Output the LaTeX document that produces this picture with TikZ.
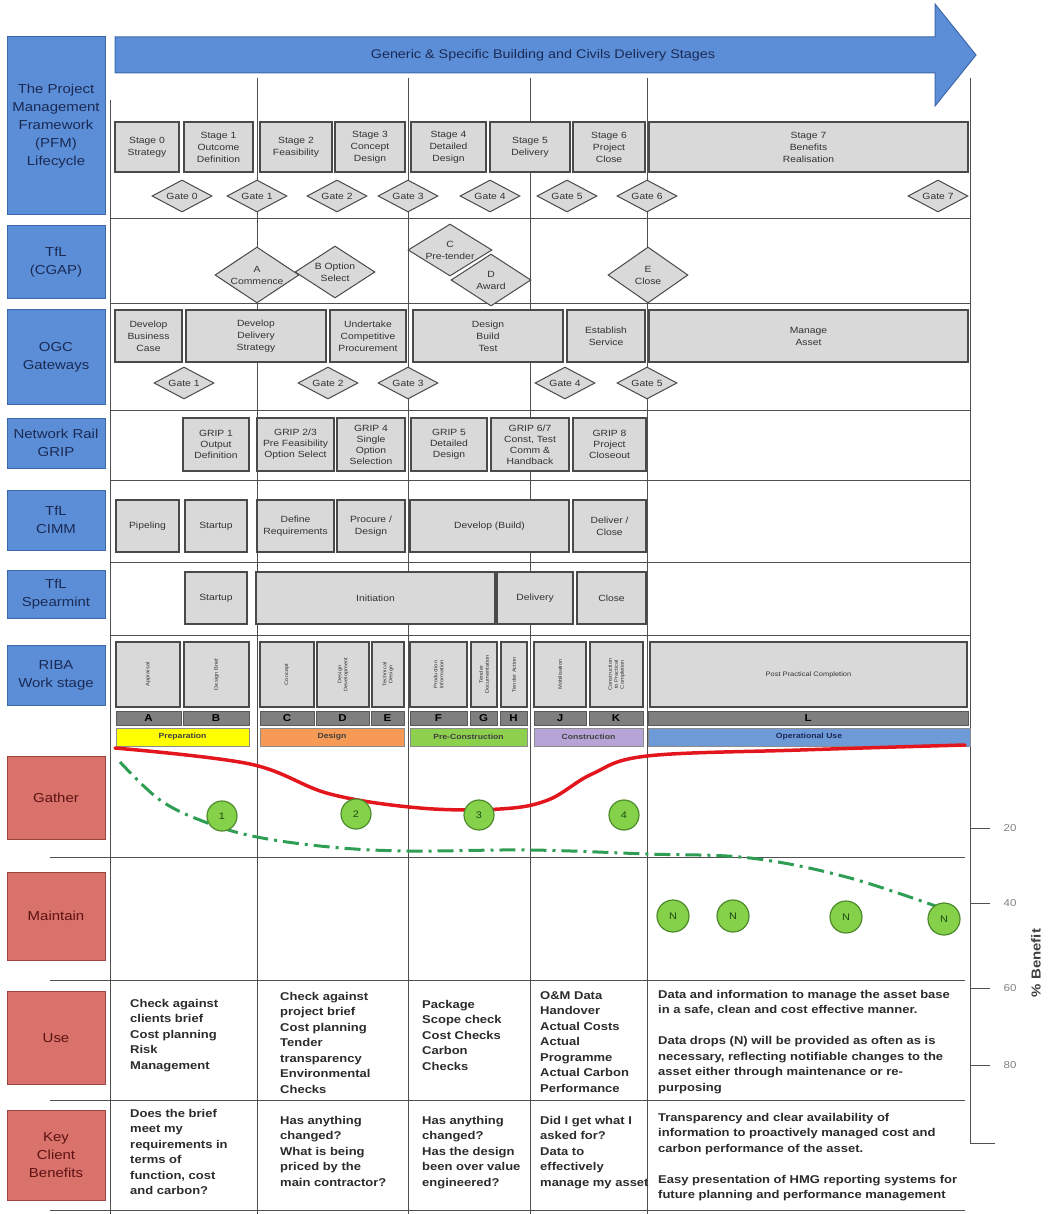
\documentclass[tikz,border=0pt]{standalone}
\usepackage{fontspec}
\setmainfont{Liberation Sans}[FakeStretch=1.15]
\usetikzlibrary{shapes.geometric}

\definecolor{blueback}{HTML}{5B8ED7}
\definecolor{bluedark}{HTML}{3C68AA}
\definecolor{bluetext}{HTML}{1B2A55}
\definecolor{redback}{HTML}{D9726B}
\definecolor{reddark}{HTML}{9C4540}
\definecolor{redtext}{HTML}{5C1212}
\definecolor{boxgrey}{HTML}{D9D9D9}
\definecolor{boxline}{HTML}{4A4A4A}
\definecolor{boxtext}{HTML}{333333}
\definecolor{gridline}{HTML}{505050}
\definecolor{lettergrey}{HTML}{7F7F7F}
\definecolor{prepyellow}{HTML}{FFFF00}
\definecolor{designorange}{HTML}{F79A55}
\definecolor{precongreen}{HTML}{8DD04E}
\definecolor{constrlilac}{HTML}{B6A4D6}
\definecolor{opblue}{HTML}{6F9AD8}
\definecolor{curvered}{HTML}{E3161E}
\definecolor{dashgreen}{HTML}{2F9E55}
\definecolor{circgreen}{HTML}{86D14A}
\definecolor{circline}{HTML}{4C8A2C}
\definecolor{circtext}{HTML}{1F4A12}
\definecolor{axistext}{HTML}{808080}
\definecolor{bodytext}{HTML}{2B2B2B}

\newcommand{\labfont}{\fontsize{13}{18}\selectfont}
\newcommand{\boxfont}{\fontsize{9}{12}\selectfont}
\newcommand{\ribafont}{\fontsize{5}{6}\selectfont}
\newcommand{\bodyfont}{\bfseries\fontsize{11.3}{15.5}\selectfont}
\newcommand{\arrowfont}{\fontsize{12.5}{14}\selectfont}

\begin{document}
\begin{tikzpicture}[x=1pt,y=-1pt,
    gbox/.style={draw=boxline, fill=boxgrey, line width=1.1pt, inner sep=0pt, align=center, font=\boxfont, text=boxtext},
    gate/.style={diamond, aspect=2, draw=boxline, fill=boxgrey, line width=1pt, inner sep=0pt, minimum width=60pt, minimum height=32pt, font=\boxfont, text=boxtext},
    cgap/.style={gate, aspect=1.6, align=center},
    bluelab/.style={draw=bluedark, fill=blueback, line width=1pt, minimum width=98pt, inner sep=0pt, align=center, font=\labfont, text=bluetext},
    redlab/.style={bluelab, draw=reddark, fill=redback, text=redtext},
    colline/.style={draw=gridline, line width=1pt},
    letterbar/.style={draw=lettergrey!70!black, fill=lettergrey, line width=0.6pt, inner sep=0pt, minimum height=14pt, font=\bfseries\fontsize{10}{10}\selectfont},
    phasebar/.style={draw=black!45, line width=0.6pt, inner sep=0pt, minimum height=18pt, font=\bfseries\fontsize{7.5}{8}\selectfont, text=black!75},
    bodytxt/.style={anchor=north west, align=left, inner sep=0pt, font=\bodyfont, text=bodytext},
    dot/.style={circle, draw=circline, fill=circgreen, line width=1.2pt, minimum size=30pt, inner sep=0pt, font=\fontsize{9.5}{9.5}\selectfont, text=circtext}]
    \useasboundingbox (0,0) rectangle (1050,1214);

    % grid of the stages
    \draw[colline] (110,100) -- (110,1214);
    \draw[colline] (970,78) -- (970,1143) -- (995,1143);
    \foreach \x in {257,408,530,647}
        \draw[colline] (\x,78) -- (\x,1214);
    \foreach \y in {219,303,410,480,562,635}
        \draw[colline] (110,\y) -- (970,\y);
    \foreach \y in {857,980,1100,1210}
        \draw[colline] (50,\y) -- (965,\y);

    % benefit axis
    \foreach \y/\v in {828/20,903/40,988/60,1065/80} {
        \draw[colline] (970,\y) -- (990,\y);
        \node[text=axistext, font=\fontsize{10}{10}\selectfont] (tick\v) at (1010,\y) {\v};
    }
    \node[rotate=90, font=\bfseries\fontsize{13}{13}\selectfont, text=black!75] (benefit) at (1036,963) {\% Benefit};

    % delivery stages arrow
    \draw[draw=bluedark, fill=blueback, line width=1pt] (115,37) -- (935,37) -- (935,4) -- (976,55) -- (935,106) -- (935,73) -- (115,73) -- cycle;
    \node[font=\arrowfont, text=bluetext] (stages) at (543,55) {Generic \& Specific Building and Civils Delivery Stages};

    % row labels
    \node[bluelab, minimum height=178pt] (lpfm) at (56,126) {The Project\\Management\\Framework\\(PFM)\\Lifecycle};
    \node[bluelab, minimum height=73pt] (lcgap) at (56,262) {TfL\\(CGAP)};
    \node[bluelab, minimum height=95pt] (logc) at (56,357) {OGC\\Gateways};
    \node[bluelab, minimum height=50pt] (lgrip) at (56,443) {Network Rail\\GRIP};
    \node[bluelab, minimum height=60pt] (lcimm) at (56,520) {TfL\\CIMM};
    \node[bluelab, minimum height=48pt] (lspear) at (56,594) {TfL\\Spearmint};
    \node[bluelab, minimum height=60pt] (lriba) at (56,675) {RIBA\\Work stage};
    \node[redlab, minimum height=83pt] (lgather) at (56,798) {Gather};
    \node[redlab, minimum height=88pt] (lmaintain) at (56,916) {Maintain};
    \node[redlab, minimum height=93pt] (luse) at (56,1038) {Use};
    \node[redlab, minimum height=90pt] (lkey) at (56,1155) {Key\\Client\\Benefits};

    % PFM stages
    \foreach \nm/\xa/\xb/\t in {s0/115/179/{Stage 0\\Strategy}, s1/184/253/{Stage 1\\Outcome\\Definition},
        s2/260/332/{Stage 2\\Feasibility}, s3/335/405/{Stage 3\\Concept\\Design},
        s4/411/486/{Stage 4\\Detailed\\Design}, s5/490/570/{Stage 5\\Delivery},
        s6/573/645/{Stage 6\\Project\\Close}, s7/649/968/{Stage 7\\Benefits\\Realisation}}
        \node[gbox, minimum width={(\xb-\xa)*1pt}, minimum height=50pt] (\nm) at ({(\xa+\xb)/2},147) {\t};
    \foreach \nm/\x/\t in {g0/182/Gate 0, g1/257/Gate 1, g2/337/Gate 2, g3/408/Gate 3,
        g4/490/Gate 4, g5/567/Gate 5, g6/647/Gate 6, g7/938/Gate 7}
        \node[gate] (\nm) at (\x,196) {\t};

    % CGAP gates
    \node[cgap, minimum width=84pt, minimum height=56pt] (ga) at (257,275) {A\\Commence};
    \node[cgap, minimum width=80pt, minimum height=52pt] (gb) at (335,272) {B Option\\Select};
    \node[cgap, minimum width=84pt, minimum height=52pt] (gc) at (450,250) {C\\Pre-tender};
    \node[cgap, minimum width=80pt, minimum height=52pt] (gd) at (491,280) {D\\Award};
    \node[cgap, minimum width=80pt, minimum height=56pt] (ge) at (648,275) {E\\Close};

    % OGC gateways
    \foreach \nm/\xa/\xb/\t in {o1/115/182/{Develop\\Business\\Case}, o2/186/326/{Develop\\Delivery\\Strategy},
        o3/330/406/{Undertake\\Competitive\\Procurement}, o4/413/563/{Design\\Build\\Test},
        o5/567/645/{Establish\\Service}, o6/649/968/{Manage\\Asset}}
        \node[gbox, minimum width={(\xb-\xa)*1pt}, minimum height=52pt] (\nm) at ({(\xa+\xb)/2},336) {\t};
    \foreach \nm/\x/\t in {og1/184/Gate 1, og2/328/Gate 2, og3/408/Gate 3, og4/565/Gate 4, og5/647/Gate 5}
        \node[gate] (\nm) at (\x,383) {\t};

    % GRIP
    \foreach \nm/\xa/\xb/\t in {r1/183/249/{GRIP 1\\Output\\Definition}, r2/257/334/{GRIP 2/3\\Pre Feasibility\\Option Select},
        r3/337/405/{GRIP 4\\Single\\Option\\Selection}, r4/411/487/{GRIP 5\\Detailed\\Design},
        r5/491/569/{GRIP 6/7\\Const, Test\\Comm \&\\Handback}, r6/573/646/{GRIP 8\\Project\\Closeout}}
        \node[gbox, minimum width={(\xb-\xa)*1pt}, minimum height=53pt, font=\fontsize{9}{11}\selectfont] (\nm) at ({(\xa+\xb)/2},444.5) {\t};

    % CIMM
    \foreach \nm/\xa/\xb/\t in {c1/116/179/{Pipeling}, c2/185/247/{Startup}, c3/257/334/{Define\\Requirements},
        c4/337/405/{Procure /\\Design}, c5/410/569/{Develop (Build)}, c6/573/646/{Deliver /\\Close}}
        \node[gbox, minimum width={(\xb-\xa)*1pt}, minimum height=52pt] (\nm) at ({(\xa+\xb)/2},526) {\t};

    % Spearmint
    \foreach \nm/\xa/\xb/\t in {p1/185/247/{Startup}, p2/256/495/{Initiation}, p3/497/573/{Delivery}, p4/577/646/{Close}}
        \node[gbox, minimum width={(\xb-\xa)*1pt}, minimum height=52pt] (\nm) at ({(\xa+\xb)/2},598) {\t};

    % RIBA work stages
    \foreach \nm/\xa/\xb/\t in {w1/116/180/{Appraisal}, w2/184/249/{Design Brief}, w3/260/314/{Concept},
        w4/317/369/{Design\\Development}, w5/372/404/{Technical\\Design}, w6/410/467/{Production\\Information},
        w7/471/497/{Tender\\Documentation}, w8/501/527/{Tender Action}, w9/534/586/{Mobilisation},
        w10/590/643/{Construction\\to Practical\\Completion}} {
        \node[gbox, minimum width={(\xb-\xa)*1pt}, minimum height=65pt] (\nm) at ({(\xa+\xb)/2},674.5) {};
        \node[rotate=90, align=center, font=\ribafont, text=boxtext] at (\nm) {\t};
    }
    \node[gbox, minimum width=317pt, minimum height=65pt, font=\fontsize{6.5}{7}\selectfont] (w11) at (808.5,674.5) {Post Practical Completion};

    \foreach \nm/\xa/\xb in {A/116/181, B/183/249, C/260/314, D/316/369, E/371/404, F/410/467,
        G/470/497, H/500/527, J/534/586, K/589/643, L/648/968}
        \node[letterbar, minimum width={(\xb-\xa)*1pt}] (let\nm) at ({(\xa+\xb)/2},718) {\nm};

    \node[phasebar, fill=prepyellow, minimum width=133pt] (preparation) at (182.5,737) {Preparation};
    \node[phasebar, fill=designorange, minimum width=144pt] (design) at (332,737) {Design};
    \node[phasebar, fill=precongreen, minimum width=117pt] (precon) at (468.5,737) {Pre-Construction};
    \node[phasebar, fill=constrlilac, minimum width=109pt] (construction) at (588.5,737) {Construction};
    \node[phasebar, fill=opblue, minimum width=322pt, text=bluetext] (opuse) at (809,737) {Operational Use};

    % benefit curves
    \draw[curvered, line width=3.5pt, line cap=round] plot[smooth, tension=0.6] coordinates {(115,748) (250,764) (330,794) (420,808) (500,809) (548,800) (592,774) (647,756) (800,750) (965,745)};
    \draw[dashgreen, line width=3pt, dash pattern=on 16pt off 6pt on 3pt off 6pt] plot[smooth, tension=0.6] coordinates {(120,762) (160,800) (205,822) (257,837) (330,847) (408,851) (530,850) (647,854) (750,858) (850,878) (955,913)};

    % data drops
    \node[dot] (d1) at (222,816) {1};
    \node[dot] (d2) at (356,814) {2};
    \node[dot] (d3) at (479,815) {3};
    \node[dot] (d4) at (624,815) {4};
    \node[dot, minimum size=32pt] (n1) at (673,916) {N};
    \node[dot, minimum size=32pt] (n2) at (733,916) {N};
    \node[dot, minimum size=32pt] (n3) at (846,917) {N};
    \node[dot, minimum size=32pt] (n4) at (944,919) {N};

    % use
    \node[bodytxt] (use1) at (130,999) {Check against\\clients brief\\Cost planning\\Risk\\Management};
    \node[bodytxt] (use2) at (280,992) {Check against\\project brief\\Cost planning\\Tender\\transparency\\Environmental\\Checks};
    \node[bodytxt] (use3) at (422,1000) {Package\\Scope check\\Cost Checks\\Carbon\\Checks};
    \node[bodytxt] (use4) at (540,991) {O\&M Data\\Handover\\Actual Costs\\Actual\\Programme\\Actual Carbon\\Performance};
    \node[bodytxt] (use5) at (658,990) {Data and information to manage the asset base\\in a safe, clean and cost effective manner.\\[15.5pt]Data drops (N) will be provided as often as is\\necessary, reflecting notifiable changes to the\\asset either through maintenance or re-\\purposing};

    % key client benefits
    \node[bodytxt] (key1) at (130,1109) {Does the brief\\meet my\\requirements in\\terms of\\function, cost\\and carbon?};
    \node[bodytxt] (key2) at (280,1116) {Has anything\\changed?\\What is being\\priced by the\\main contractor?};
    \node[bodytxt] (key3) at (422,1116) {Has anything\\changed?\\Has the design\\been over value\\engineered?};
    \node[bodytxt] (key4) at (540,1116) {Did I get what I\\asked for?\\Data to\\effectively\\manage my asset};
    \node[bodytxt] (key5) at (658,1113) {Transparency and clear availability of\\information to proactively managed cost and\\carbon performance of the asset.\\[15.5pt]Easy presentation of HMG reporting systems for\\future planning and performance management};
\end{tikzpicture}
\end{document}
